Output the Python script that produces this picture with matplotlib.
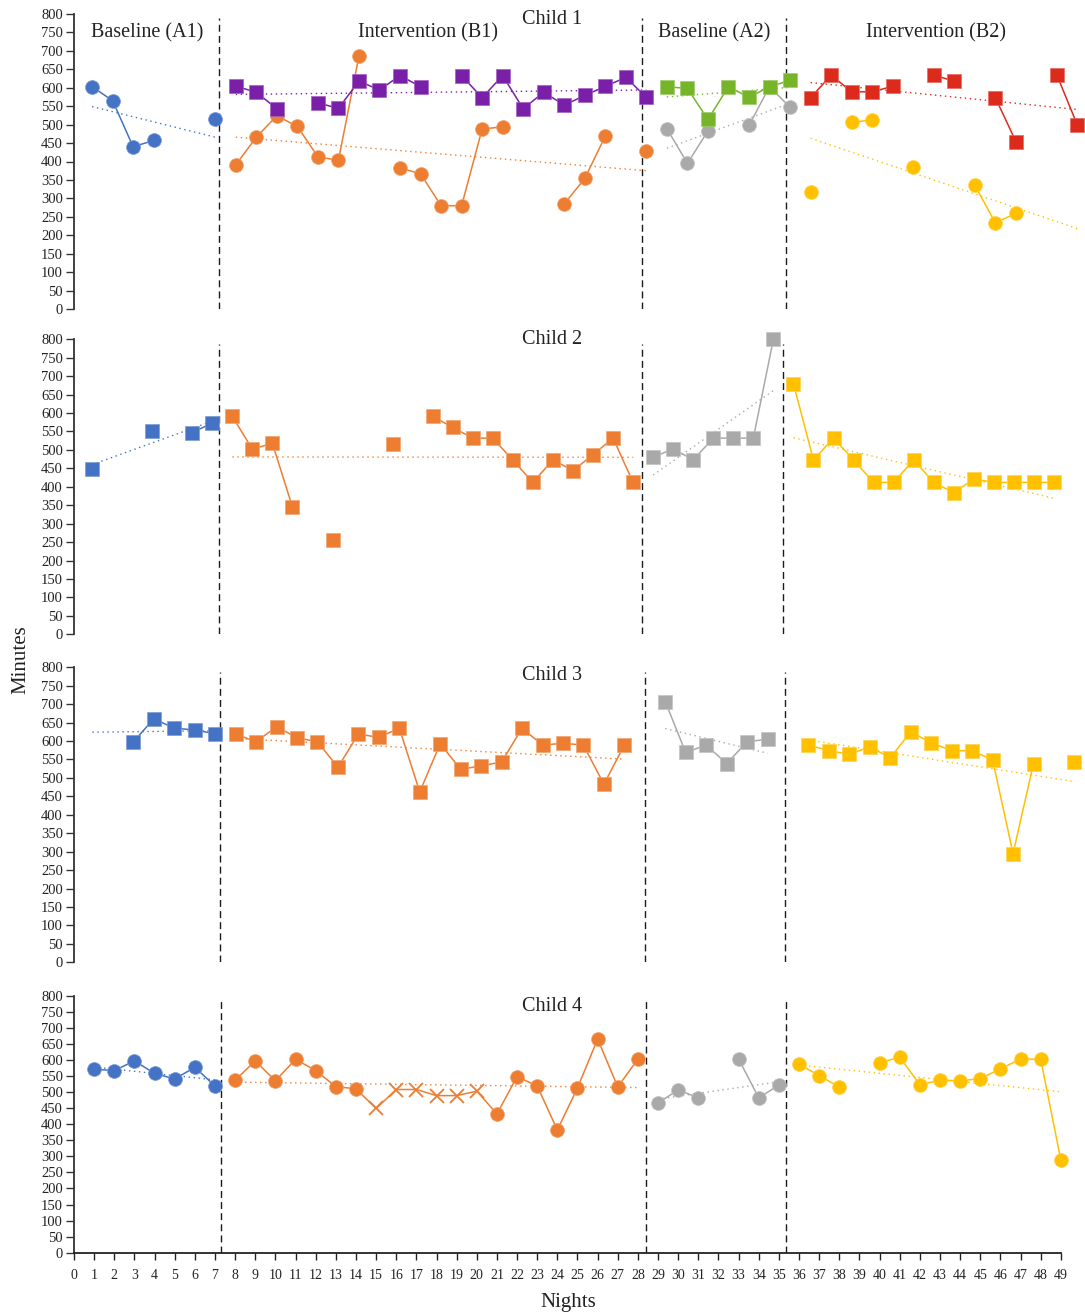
import matplotlib
matplotlib.use("Agg")
import matplotlib.pyplot as plt
from matplotlib.colors import to_rgb

plt.rcParams['font.family'] = ['Liberation Serif', 'DejaVu Serif']

# ---------------- data (minutes per night) ----------------
# Child 1
c1_a1_nights = [1, 2, 3, 4, 7]
c1_a1_min = [603, 565, 440, 457, 514]
c1_a1_trend = [549, 466]
c1_b1_sq_nights = [8, 9, 10, 12, 13, 14, 15, 16, 17, 19, 20, 21, 22, 23, 24, 25, 26, 27, 28]
c1_b1_sq_min = [604, 588, 543, 559, 544, 618, 594, 633, 603, 633, 573, 633, 543, 588, 553, 579, 604, 628, 574]
c1_b1_sq_trend = [582, 594]
c1_b1_ci_nights = [8, 9, 10, 11, 12, 13, 14, 16, 17, 18, 19, 20, 21, 24, 25, 26, 28]
c1_b1_ci_min = [391, 466, 524, 495, 413, 403, 686, 382, 367, 280, 280, 488, 494, 285, 354, 469, 429]
c1_b1_ci_trend = [466, 375]
c1_a2_sq_nights = [29, 30, 31, 32, 33, 34, 35]
c1_a2_sq_min = [603, 598, 514, 603, 574, 603, 620]
c1_a2_sq_trend = [575, 601]
c1_a2_ci_nights = [29, 30, 31, 33, 34, 35]
c1_a2_ci_min = [489, 395, 483, 498, 603, 547]
c1_a2_ci_trend = [436, 558]
c1_b2_sq_nights = [36, 37, 38, 39, 40, 42, 43, 45, 46, 48, 49]
c1_b2_sq_min = [573, 634, 589, 589, 604, 634, 618, 573, 454, 634, 498]
c1_b2_sq_trend = [614, 541]
c1_b2_ci_nights = [36, 38, 39, 41, 44, 45, 46]
c1_b2_ci_min = [317, 506, 513, 386, 335, 234, 259]
c1_b2_ci_trend = [463, 218]

# Child 2
c2_a1_nights = [1, 4, 6, 7]
c2_a1_min = [447, 552, 547, 573]
c2_a1_trend = [460, 578]
c2_b1_nights = [8, 9, 10, 11, 13, 16, 18, 19, 20, 21, 22, 23, 24, 25, 26, 27, 28]
c2_b1_min = [591, 502, 518, 345, 255, 517, 591, 561, 532, 532, 472, 412, 473, 444, 487, 532, 412]
c2_b1_trend = [481, 480]
c2_a2_nights = [29, 30, 31, 32, 33, 34, 35]
c2_a2_min = [480, 503, 473, 532, 532, 532, 800]
c2_a2_trend = [432, 661]
c2_b2_nights = [36, 37, 38, 39, 40, 41, 42, 43, 44, 45, 46, 47, 48, 49]
c2_b2_min = [680, 473, 532, 473, 412, 412, 473, 412, 384, 421, 412, 412, 412, 412]
c2_b2_trend = [533, 369]

# Child 3
c3_a1_nights = [3, 4, 5, 6, 7]
c3_a1_min = [598, 660, 635, 630, 620]
c3_a1_trend = [624, 628]
c3_b1_nights = [8, 9, 10, 11, 12, 13, 14, 15, 16, 17, 18, 19, 20, 21, 22, 23, 24, 25, 26, 27]
c3_b1_min = [619, 598, 639, 609, 598, 529, 619, 610, 635, 462, 593, 523, 533, 543, 635, 589, 594, 589, 483, 589]
c3_b1_trend = [607, 551]
c3_a2_nights = [29, 30, 31, 32, 33, 34]
c3_a2_min = [707, 569, 589, 539, 598, 605]
c3_a2_trend = [634, 567]
c3_b2_nights = [36, 37, 38, 39, 40, 41, 42, 43, 44, 45, 46, 47, 49]
c3_b2_min = [589, 574, 564, 584, 555, 625, 595, 574, 574, 549, 295, 539, 544]
c3_b2_trend = [603, 490]

# Child 4
c4_a1_nights = [1, 2, 3, 4, 5, 6, 7]
c4_a1_min = [571, 567, 597, 558, 541, 577, 519]
c4_a1_trend = [578, 538]
c4_b1_nights = [8, 9, 10, 11, 12, 13, 14, 15, 16, 17, 18, 19, 20, 21, 22, 23, 24, 25, 26, 27, 28]
c4_b1_min = [537, 597, 535, 602, 567, 517, 510, 449, 508, 508, 489, 489, 503, 432, 548, 519, 382, 513, 665, 516, 603]
c4_b1_cross_nights = [15, 16, 17, 18, 19, 20]
c4_b1_trend = [531, 514]
c4_a2_nights = [29, 30, 31, 33, 34, 35]
c4_a2_min = [466, 507, 482, 603, 482, 522]
c4_a2_trend = [478, 532]
c4_b2_nights = [36, 37, 38, 40, 41, 42, 43, 44, 45, 46, 47, 48, 49]
c4_b2_min = [587, 551, 516, 591, 609, 523, 537, 535, 542, 572, 603, 602, 288]
c4_b2_trend = [584, 501]

phase_labels = ['Baseline (A1)', 'Intervention (B1)', 'Baseline (A2)', 'Intervention (B2)']
child_titles = ['Child 1', 'Child 2', 'Child 3', 'Child 4']
night_ticks = list(range(0, 50))
minute_ticks = list(range(0, 801, 50))

# ---------------- colours ----------------
BLUE = '#4472C4'
ORANGE = '#ED7D31'
GRAY = '#A9A9A9'
YELLOW = '#FFC000'
PURPLE = '#7A1FA8'
GREEN = '#76B52A'
RED = '#DC2A1C'
INK = '#222222'

W, H = 1085, 1314
fig = plt.figure(figsize=(W / 100, H / 100), dpi=100)


def light(c, f=0.3):
    r, g, b = to_rgb(c)
    return (r + (1 - r) * f, g + (1 - g) * f, b + (1 - b) * f)


def draw_series(ax, nights, mins, color, marker, trend_x, trend_y, z, cross=()):
    # dotted trend line
    ax.plot(trend_x, trend_y, color=color, lw=1.0, dashes=(1, 2.6), zorder=z)
    # solid line only between consecutive nights
    run_x, run_y = [nights[0]], [mins[0]]
    for n, v in zip(nights[1:], mins[1:]):
        if n - run_x[-1] == 1:
            run_x.append(n)
            run_y.append(v)
        else:
            if len(run_x) > 1:
                ax.plot(run_x, run_y, color=color, lw=1.1, zorder=z + 1)
            run_x, run_y = [n], [v]
    if len(run_x) > 1:
        ax.plot(run_x, run_y, color=color, lw=1.1, zorder=z + 1)
    # markers
    mx = [n for n in nights if n not in cross]
    my = [v for n, v in zip(nights, mins) if n not in cross]
    ms = 10 if marker == 's' else 10
    ax.plot(mx, my, ls='none', marker=marker, ms=ms, color=color,
            mec=light(color), mew=0.5, zorder=z + 2, clip_on=False)
    if cross:
        cx = [n for n in nights if n in cross]
        cy = [v for n, v in zip(nights, mins) if n in cross]
        ax.plot(cx, cy, ls='none', marker='x', ms=10, mew=1.3, color=color,
                zorder=z + 2, clip_on=False)


# panel geometry in pixels: (top of 800, bottom of 0)
panel_y = [(14, 309), (339.3, 634.3), (667.3, 962.3), (995.7, 1252.7)]
panel_xlim = [(0.12, 49.22), (0.1, 50.4), (0.1, 49.37), (0.0, 50.05)]
phase_lines = [(7.17, 27.8, 34.8), (7.35, 28.44, 35.48), (7.25, 27.99, 34.84), (7.3, 28.39, 35.33)]
AX_L, AX_R = 74, 1082

axes = []
for i, (t, b) in enumerate(panel_y):
    ax = fig.add_axes([AX_L / W, 1 - b / H, (AX_R - AX_L) / W, (b - t) / H])
    ax.set_xlim(*panel_xlim[i])
    ax.set_ylim(0, 800)
    ax.set_facecolor('none')
    for s in ['top', 'right']:
        ax.spines[s].set_visible(False)
    ax.spines['left'].set_color('#333333')
    ax.spines['left'].set_linewidth(1.3)
    ax.set_yticks(minute_ticks)
    ax.tick_params(axis='y', direction='out', length=5.5, width=1.0, color='#333333',
                   labelsize=10.5, labelcolor=INK, pad=2.5)
    if i < 3:
        ax.spines['bottom'].set_visible(False)
        ax.set_xticks([])
    else:
        ax.spines['bottom'].set_color('#222222')
        ax.spines['bottom'].set_linewidth(1.3)
        ax.spines['bottom'].set_bounds(0, 49)
        ax.set_xticks(night_ticks)
        ax.tick_params(axis='x', direction='out', length=5, width=1.0, color='#222222',
                       labelsize=10, labelcolor=INK, pad=7)
    for xv in phase_lines[i]:
        ax.axvline(xv, ymin=0, ymax=0.985, color='#1a1a1a', lw=1.0, dashes=(5, 3), zorder=1)
    axes.append(ax)

# Child 1
ax = axes[0]
draw_series(ax, c1_a1_nights, c1_a1_min, BLUE, 'o', [1, 7], c1_a1_trend, 3)
draw_series(ax, c1_b1_ci_nights, c1_b1_ci_min, ORANGE, 'o', [8, 28], c1_b1_ci_trend, 3)
draw_series(ax, c1_b1_sq_nights, c1_b1_sq_min, PURPLE, 's', [8, 28], c1_b1_sq_trend, 6)
draw_series(ax, c1_a2_ci_nights, c1_a2_ci_min, GRAY, 'o', [29, 35], c1_a2_ci_trend, 3)
draw_series(ax, c1_a2_sq_nights, c1_a2_sq_min, GREEN, 's', [29, 35], c1_a2_sq_trend, 6)
draw_series(ax, c1_b2_ci_nights, c1_b2_ci_min, YELLOW, 'o', [36, 49], c1_b2_ci_trend, 3)
draw_series(ax, c1_b2_sq_nights, c1_b2_sq_min, RED, 's', [36, 49], c1_b2_sq_trend, 6)

# Child 2
ax = axes[1]
draw_series(ax, c2_a1_nights, c2_a1_min, BLUE, 's', [1, 7], c2_a1_trend, 3)
draw_series(ax, c2_b1_nights, c2_b1_min, ORANGE, 's', [8, 28], c2_b1_trend, 3)
draw_series(ax, c2_a2_nights, c2_a2_min, GRAY, 's', [29, 35], c2_a2_trend, 3)
draw_series(ax, c2_b2_nights, c2_b2_min, YELLOW, 's', [36, 49], c2_b2_trend, 3)

# Child 3
ax = axes[2]
draw_series(ax, c3_a1_nights, c3_a1_min, BLUE, 's', [1, 7], c3_a1_trend, 3)
draw_series(ax, c3_b1_nights, c3_b1_min, ORANGE, 's', [8, 27], c3_b1_trend, 3)
draw_series(ax, c3_a2_nights, c3_a2_min, GRAY, 's', [29, 34], c3_a2_trend, 3)
draw_series(ax, c3_b2_nights, c3_b2_min, YELLOW, 's', [36, 49], c3_b2_trend, 3)

# Child 4
ax = axes[3]
draw_series(ax, c4_a1_nights, c4_a1_min, BLUE, 'o', [1, 7], c4_a1_trend, 3)
draw_series(ax, c4_b1_nights, c4_b1_min, ORANGE, 'o', [8, 28], c4_b1_trend, 3,
            cross=c4_b1_cross_nights)
draw_series(ax, c4_a2_nights, c4_a2_min, GRAY, 'o', [29, 35], c4_a2_trend, 3)
draw_series(ax, c4_b2_nights, c4_b2_min, YELLOW, 'o', [36, 49], c4_b2_trend, 3)

# titles and labels
title_y = [19, 339.5, 676, 1006.5]
for name, ty in zip(child_titles, title_y):
    fig.text(552 / W, 1 - ty / H, name, ha='center', va='center', fontsize=14.5, color=INK)

phase_x = [146.7, 428.5, 713.7, 936]
for lab, px in zip(phase_labels, phase_x):
    fig.text(px / W, 1 - 33 / H, lab, ha='center', va='center', fontsize=14.5, color=INK)

fig.text(21 / W, 1 - 660 / H, 'Minutes', rotation=90, ha='center', va='center',
         fontsize=15, color=INK)
fig.text(568 / W, 1 - 1303 / H, 'Nights', ha='center', va='center', fontsize=15, color=INK)

fig.savefig('out.png', dpi=100)
